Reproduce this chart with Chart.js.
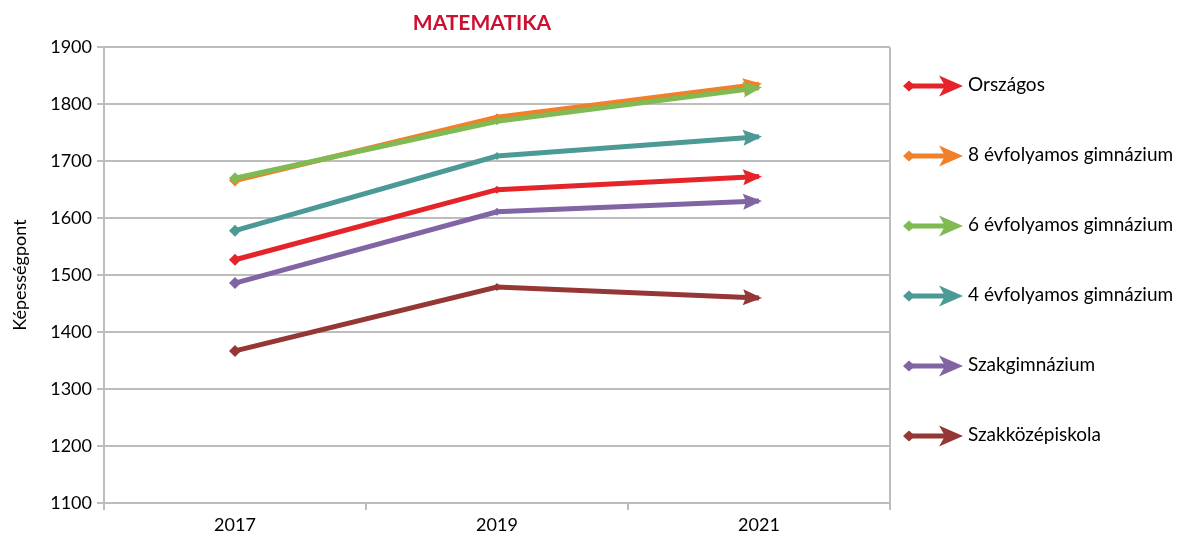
<!DOCTYPE html>
<html>
<head>
<meta charset="utf-8">
<script src="https://cdn.jsdelivr.net/npm/chart.js@4.4.1/dist/chart.umd.min.js"></script>
<style>
  html, body { margin: 0; padding: 0; background: #fff; }
  #wrap { width: 1184px; height: 539px; }
</style>
</head>
<body>
<div id="wrap"><canvas id="myChart"></canvas></div>
<script>
// évek
const labels = ['2017', '2019', '2021'];

// képességpontok típusonként
const orszagos  = [1527, 1650, 1673];
const gimn8     = [1666, 1777, 1835];
const gimn6     = [1670, 1770, 1829];
const gimn4     = [1578, 1709, 1743];
const szakgimn  = [1486, 1611, 1630];
const szakkozep = [1367, 1479, 1460];

const yTicks = [1100, 1200, 1300, 1400, 1500, 1600, 1700, 1800, 1900];

const names  = ['Országos', '8 évfolyamos gimnázium', '6 évfolyamos gimnázium',
                '4 évfolyamos gimnázium', 'Szakgimnázium', 'Szakközépiskola'];
const series = [orszagos, gimn8, gimn6, gimn4, szakgimn, szakkozep];
const colors = ['#E5242A', '#F0802A', '#80BA52', '#4B9A96', '#8064A4', '#953735'];

const FONT = 'Lato, "Open Sans", sans-serif';
const GRID = '#bdbdbd';

// nyílhegy a vonalak végén
const arrowHeads = {
  id: 'arrowHeads',
  afterDatasetsDraw(chart) {
    const ctx = chart.ctx;
    // alulról felfelé, ahogy a vonalak is
    const idx = chart.data.datasets.map((d, i) => i).sort((a, b) => chart.data.datasets[b].order - chart.data.datasets[a].order);
    idx.forEach(i => {
      const pts = chart.getDatasetMeta(i).data;
      const p = pts[pts.length - 1], q = pts[pts.length - 2];
      const a = Math.atan2(p.y - q.y, p.x - q.x);
      ctx.save();
      ctx.translate(p.x, p.y);
      ctx.rotate(a);
      ctx.fillStyle = chart.data.datasets[i].borderColor;
      ctx.beginPath();
      ctx.moveTo(3, 0);
      ctx.lineTo(-16, -8);
      ctx.lineTo(-13, 0);
      ctx.lineTo(-16, 8);
      ctx.closePath();
      ctx.fill();
      ctx.restore();
    });
  }
};

// jelmagyarázat jobb oldalt
const sideLegend = {
  id: 'sideLegend',
  afterDraw(chart) {
    const ctx = chart.ctx;
    const x0 = 903, y0 = 86, step = 70;
    ctx.save();
    names.forEach((name, i) => {
      const y = y0 + i * step;
      const c = colors[i];
      ctx.strokeStyle = c;
      ctx.fillStyle = c;
      ctx.lineWidth = 5;
      ctx.beginPath();
      ctx.moveTo(x0 + 6, y);
      ctx.lineTo(x0 + 48, y);
      ctx.stroke();
      ctx.beginPath();
      ctx.moveTo(x0, y);
      ctx.lineTo(x0 + 6, y - 5.5);
      ctx.lineTo(x0 + 12, y);
      ctx.lineTo(x0 + 6, y + 5.5);
      ctx.closePath();
      ctx.fill();
      ctx.beginPath();
      ctx.moveTo(x0 + 60, y);
      ctx.lineTo(x0 + 36, y - 10.5);
      ctx.lineTo(x0 + 42, y);
      ctx.lineTo(x0 + 36, y + 10.5);
      ctx.closePath();
      ctx.fill();
      ctx.fillStyle = '#000';
      ctx.font = '19px ' + FONT;
      ctx.textBaseline = 'middle';
      ctx.textAlign = 'left';
      ctx.fillText(name, 968, y - 1);
    });
    ctx.restore();
  }
};

const datasets = series.map((values, i) => ({
  label: names[i],
  data: values,
  borderColor: colors[i],
  backgroundColor: colors[i],
  borderWidth: 5,
  tension: 0,
  fill: false,
  pointStyle: 'rectRot',
  pointRadius: [6, 4, 0],
  pointHoverRadius: [6, 4, 0],
  pointBorderWidth: 0,
  order: series.length - i
}));

const config = {
  type: 'line',
  data: { labels: labels, datasets: datasets },
  options: {
    responsive: true,
    maintainAspectRatio: false,
    animation: false,
    devicePixelRatio: 1,
    layout: { padding: { left: 0, right: 220, top: 0, bottom: 0 } },
    plugins: {
      legend: { display: false },
      tooltip: { enabled: false },
      title: {
        display: true,
        text: 'MATEMATIKA',
        color: '#CC1030',
        font: { family: FONT, size: 21, weight: 'bold' },
        padding: { top: 11, bottom: 11 }
      }
    },
    scales: {
      x: {
        offset: true,
        grid: {
          offset: true,
          color: c => c.type === 'tick' ? 'rgba(0,0,0,0)' : GRID,
          lineWidth: 2,
          tickColor: GRID,
          tickLength: 7
        },
        border: { color: GRID, width: 2 },
        ticks: { color: '#000', font: { family: FONT, size: 18 }, padding: 4 },
        afterFit(s) { s.height = 36; }
      },
      y: {
        min: yTicks[0],
        max: yTicks[yTicks.length - 1],
        afterBuildTicks(s) { s.ticks = yTicks.map(v => ({ value: v })); },
        grid: { color: GRID, lineWidth: 2, tickColor: GRID, tickLength: 7 },
        border: { color: GRID, width: 2 },
        ticks: {
          color: '#000',
          font: { family: FONT, size: 18 },
          padding: 5,
          callback: v => String(v)
        },
        title: {
          display: true,
          text: 'Képességpont',
          color: '#000',
          font: { family: FONT, size: 18 },
          padding: { top: 9, bottom: 0 }
        },
        afterFit(s) { s.width = 104; }
      },
      // üres sáv a rajzterület jobb szélén a jelmagyarázat előtt
      gap: {
        type: 'linear',
        position: 'right',
        display: true,
        grid: { display: false },
        border: { display: false },
        ticks: { display: false },
        afterFit(s) { s.width = 74; }
      }
    }
  },
  plugins: [arrowHeads, sideLegend]
};

const myChart = new Chart(document.getElementById('myChart'), config);
</script>
</body>
</html>
